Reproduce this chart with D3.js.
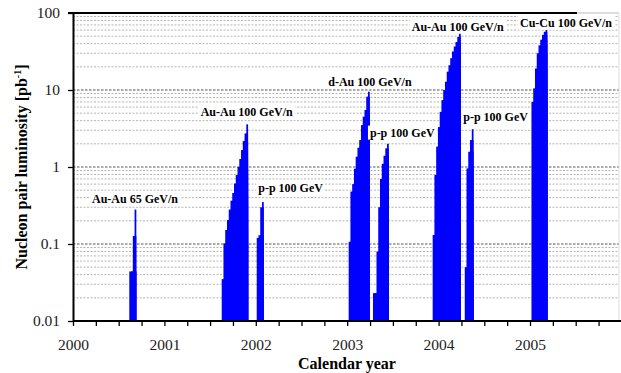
<!DOCTYPE html>
<html>
<head>
<meta charset="utf-8">
<script src="https://cdn.jsdelivr.net/npm/d3@7"></script>
<style>
  body { margin: 0; background: #fff; }
  svg { display: block; }
  .axis text { font-family: "Liberation Serif", "Times New Roman", serif; font-size: 15.5px; fill: #222; }
  .axis path, .axis line { stroke: #000; }
  .run-label { font-family: "Liberation Serif", "Times New Roman", serif; font-size: 12px; font-weight: bold; fill: #000; }
  .title { font-family: "Liberation Serif", "Times New Roman", serif; font-size: 16px; font-weight: bold; fill: #000; }
</style>
</head>
<body>
<div id="chart"></div>
<script>
// runs: start (fractional calendar year) and weekly integrated luminosity
const runNames  = ["Au-Au 65 GeV/n", "Au-Au 100 GeV/n", "p-p 100 GeV", "d-Au 100 GeV/n",
                   "p-p 100 GeV", "Au-Au 100 GeV/n", "p-p 100 GeV", "Cu-Cu 100 GeV/n"];
const runStarts = [2000.616, 2001.627, 2002.010, 2003.016, 2003.282, 2003.935, 2004.286, 2005.016];
const runWeekly = [
    [0.044, 0.044, 0.127, 0.28],
    [0.035, 0.102, 0.152, 0.205, 0.28, 0.365, 0.46, 0.61, 0.79, 1.0, 1.27, 1.66, 2.18, 2.73, 3.58],
    [0.12, 0.13, 0.3, 0.35],
    [0.107, 0.48, 0.6, 0.95, 1.36, 1.78, 2.24, 3.5, 4.5, 5.5, 8.2, 9.5],
    [0.023, 0.023, 0.08, 0.3, 0.7, 1.1, 1.4, 1.75, 2.0],
    [0.131, 0.79, 1.84, 3.3, 5.2, 7.4, 10, 12.8, 17.3, 21, 25.9, 31.6, 36.7, 42, 49, 54.5],
    [0.05, 0.96, 1.58, 2.24, 3.1],
    [7, 10.5, 19, 30, 38, 45, 52, 57, 60]
];
// label anchors in data space (start year, baseline value)
const labelYears  = [2000.208, 2001.397, 2002.027, 2002.793, 2003.249, 2003.706, 2004.270, 2004.891];
const labelValues = [0.34, 4.6, 0.47, 11.4, 2.48, 58.9, 3.92, 66.4];

const yearTicks = d3.range(2000, 2006, 0.25);
const yTicks = [0.01, 0.1, 1, 10, 100];

const width = 621, height = 373;
const margin = { top: 13, left: 73, bottom: 52 };
const plotBottom = height - margin.bottom;   // 321
const plotRight = 619;

const svg = d3.select("#chart").append("svg")
    .attr("width", width)
    .attr("height", height);

const x = d3.scaleLinear().domain([2000, 2006]).range([margin.left, 621.4]);
const y = d3.scaleLog().domain([0.01, 100]).range([plotBottom, margin.top]);

// grid lines: every 1..9 x decade
const minor = [];
[0.01, 0.1, 1, 10].forEach(dec => {
    for (let k = 2; k <= 9; k++) minor.push(dec * k);
});
svg.append("g").selectAll("line.minor")
    .data(minor)
    .enter().append("line")
    .attr("x1", margin.left).attr("x2", plotRight)
    .attr("y1", d => y(d)).attr("y2", d => y(d))
    .attr("stroke", "#b4b4b4")
    .attr("stroke-width", 1)
    .style("stroke-dasharray", "2,1.5");

svg.append("g").selectAll("line.major")
    .data(yTicks.slice(1, 4))
    .enter().append("line")
    .attr("x1", margin.left).attr("x2", plotRight)
    .attr("y1", d => y(d)).attr("y2", d => y(d))
    .attr("stroke", "#555")
    .attr("stroke-width", 1)
    .style("stroke-dasharray", "2.5,1.5");

// weekly bars; each one runs on to the end of its run so no seams show
const week = 1 / 52;
const bars = [];
runWeekly.forEach((vals, r) => {
    const end = runStarts[r] + vals.length * week;
    vals.forEach((v, i) => bars.push({ t: runStarts[r] + i * week, end: end, v: v }));
});
svg.append("g").selectAll("rect")
    .data(bars)
    .enter().append("rect")
    .attr("x", d => x(d.t))
    .attr("width", d => x(d.end) - x(d.t))
    .attr("y", d => y(d.v))
    .attr("height", d => plotBottom - y(d.v))
    .attr("fill", "#0000ff");

// run labels on white boxes
const labels = svg.append("g");
runNames.forEach((name, i) => {
    const g = labels.append("g");
    const t = g.append("text")
        .attr("class", "run-label")
        .attr("x", x(labelYears[i]))
        .attr("y", y(labelValues[i]))
        .text(name);
    const bb = t.node().getBBox();
    g.insert("rect", "text")
        .attr("x", bb.x - 2).attr("y", bb.y)
        .attr("width", bb.width + 4).attr("height", bb.height)
        .attr("fill", "#fff");
});

// frame
svg.append("line")
    .attr("x1", 577).attr("x2", plotRight)
    .attr("y1", margin.top).attr("y2", margin.top)
    .attr("stroke", "#bbb");
svg.append("line")
    .attr("x1", plotRight).attr("x2", plotRight)
    .attr("y1", margin.top).attr("y2", plotBottom)
    .attr("stroke", "#ddd");
svg.append("line")
    .attr("x1", 68).attr("x2", 577)
    .attr("y1", margin.top).attr("y2", margin.top)
    .attr("stroke", "#000").attr("stroke-width", 2);

// axes
const xAxis = d3.axisBottom(x)
    .tickValues(yearTicks)
    .tickSize(5)
    .tickSizeOuter(0)
    .tickFormat(d => Number.isInteger(d) ? d : "");
const gx = svg.append("g")
    .attr("class", "axis")
    .attr("transform", `translate(0,${plotBottom})`)
    .call(xAxis);
gx.select(".domain").attr("stroke-width", 2).attr("d", `M${margin.left},0H${width}`);
gx.selectAll(".tick line").attr("stroke-width", 1.3);
gx.selectAll(".tick text").attr("y", 29).attr("dy", 0);

const yAxis = d3.axisLeft(y)
    .tickValues(yTicks)
    .tickSize(5)
    .tickSizeOuter(0)
    .tickPadding(8)
    .tickFormat(d => String(d));
const gy = svg.append("g")
    .attr("class", "axis")
    .attr("transform", `translate(${margin.left},0)`)
    .call(yAxis);
gy.select(".domain").attr("stroke-width", 2);
gy.selectAll(".tick line").attr("stroke-width", 1.3);

// axis titles
svg.append("text")
    .attr("class", "title")
    .attr("x", 347).attr("y", 369)
    .attr("text-anchor", "middle")
    .text("Calendar year");

const yt = svg.append("text")
    .attr("class", "title")
    .attr("transform", "translate(27,167) rotate(-90)")
    .attr("text-anchor", "middle");
yt.append("tspan").text("Nucleon pair luminosity [pb");
yt.append("tspan").attr("dy", -6).attr("font-size", "10px").text("-1");
yt.append("tspan").attr("dy", 6).text("]");
</script>
</body>
</html>
